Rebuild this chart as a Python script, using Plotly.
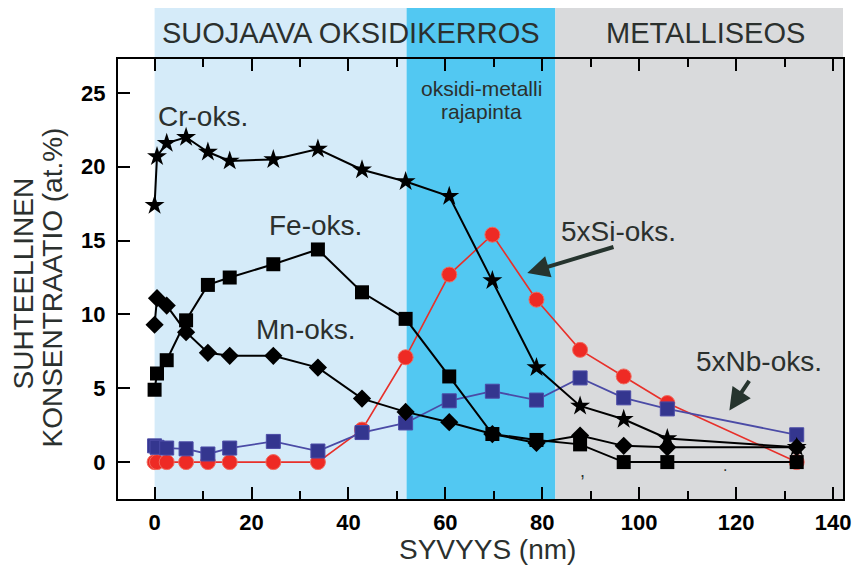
import plotly.graph_objects as go

# Sputter depth (nm) of each XPS measurement point
depth = [0, 0.5, 2.5, 6.5, 11, 15.5, 24.5, 33.7, 42.8, 51.8, 60.8, 69.7, 78.8, 87.8, 96.8, 105.8, 132.5]

# Relative concentrations (at.%) of the oxidised species
cr_oks = [17.4, 20.7, 21.6, 22.0, 21.0, 20.4, 20.5, 21.2, 19.8, 19.0, 18.0, 12.3, 6.4, 3.8, 2.9, 1.6, 1.0]
fe_oks = [4.9, 6.0, 6.9, 9.6, 12.0, 12.5, 13.4, 14.4, 11.5, 9.7, 5.8, 1.9, 1.5, 1.2, 0.0, 0.0, 0.0]
mn_oks = [9.3, 11.1, 10.6, 8.8, 7.4, 7.2, 7.2, 6.4, 4.3, 3.4, 2.7, 1.9, 1.3, 1.8, 1.1, 1.0, 1.0]
si_oks_x5 = [0, 0, 0, 0, 0, 0, 0, 0, 2.2, 7.1, 12.7, 15.4, 11.0, 7.6, 5.8, 4.0, 0.0]
nb_oks_x5 = [1.1, 1.0, 0.95, 0.9, 0.55, 0.95, 1.4, 0.75, 2.0, 2.65, 4.15, 4.8, 4.2, 5.7, 4.35, 3.6, 1.85]

# Depth zones of the sample
oxide_zone = (0, 52.0)
interface_zone = (52.0, 82.7)
alloy_zone = (82.7, 142.05)

x_ticks = [0, 20, 40, 60, 80, 100, 120, 140]
y_ticks = [0, 5, 10, 15, 20, 25]

FONT = "Liberation Sans, Arial, sans-serif"
TEXT = "#2b302e"

fig = go.Figure()

fig.add_trace(go.Scatter(
    x=depth, y=si_oks_x5, mode="lines+markers",
    line=dict(color="#e8302a", width=1.6),
    marker=dict(symbol="circle", size=15, color="#ee2a24", line=dict(color="#f06a5e", width=1)),
))
fig.add_trace(go.Scatter(
    x=depth, y=nb_oks_x5, mode="lines+markers",
    line=dict(color="#4b4ba6", width=1.8),
    marker=dict(symbol="square", size=14, color="#34368f", line=dict(color="#4b4ba6", width=1)),
))
fig.add_trace(go.Scatter(
    x=depth, y=mn_oks, mode="lines+markers",
    line=dict(color="black", width=2),
    marker=dict(symbol="diamond", size=14, color="black"),
))
fig.add_trace(go.Scatter(
    x=depth, y=fe_oks, mode="lines+markers",
    line=dict(color="black", width=2),
    marker=dict(symbol="square", size=14, color="black"),
))
fig.add_trace(go.Scatter(
    x=depth, y=cr_oks, mode="lines+markers",
    line=dict(color="black", width=2),
    marker=dict(symbol="star", size=15, color="black"),
))

# Zone backgrounds, continued above the plot as a header band
band_top = 1.116
for (x0, x1), col in [(oxide_zone, "#d5ebf9"), (interface_zone, "#52c8f2"), (alloy_zone, "#d9dadc")]:
    fig.add_shape(type="rect", xref="x", yref="paper", x0=x0, x1=x1, y0=0, y1=band_top,
                  fillcolor=col, line=dict(width=0), layer="below")

annotations = [
    dict(x=40.6, y=1.058, xref="x", yref="paper", text="SUOJAAVA OKSIDIKERROS", font=dict(size=29)),
    dict(x=113.6, y=1.058, xref="x", yref="paper", text="METALLISEOS", font=dict(size=29)),
    dict(x=67.5, y=25.3, text="oksidi-metalli", font=dict(size=21)),
    dict(x=67.5, y=23.75, text="rajapinta", font=dict(size=21)),
    dict(x=10.0, y=23.4, text="Cr-oks.", font=dict(size=28)),
    dict(x=33.3, y=16.0, text="Fe-oks.", font=dict(size=28)),
    dict(x=31.2, y=8.95, text="Mn-oks.", font=dict(size=28)),
    dict(x=95.7, y=15.65, text="5xSi-oks.", font=dict(size=28)),
    dict(x=124.7, y=6.8, text="5xNb-oks.", font=dict(size=28)),
    dict(x=88.2, y=-0.6, text=",", font=dict(size=18)),
    dict(x=117.6, y=-0.2, text=".", font=dict(size=16)),
    # axis titles
    dict(x=(492 - 118) / 733, y=-0.114, xref="paper", yref="paper", text="SYVYYS (nm)", font=dict(size=28)),
    dict(x=(22 - 118) / 733, y=0.49, xref="paper", yref="paper", text="SUHTEELLINEN",
         textangle=-90, font=dict(size=28)),
    dict(x=(52 - 118) / 733, y=0.48, xref="paper", yref="paper", text="KONSENTRAATIO (at.%)",
         textangle=-90, font=dict(size=28)),
]
for a in annotations:
    a.setdefault("xref", "x")
    a.setdefault("yref", "y")
    a["showarrow"] = False
    a["xanchor"] = "center"
    a["yanchor"] = "middle"
    a["font"] = dict(family=FONT, color=TEXT, **a["font"])
    fig.add_annotation(**a)

# Pointer arrows to the scaled Si and Nb curves
for tip, tail in [((76.9, 12.8), (95.0, 14.6)), ((118.6, 3.5), (122.9, 5.6))]:
    fig.add_annotation(x=tip[0], y=tip[1], ax=tail[0], ay=tail[1], xref="x", yref="y",
                       axref="x", ayref="y", text="", showarrow=True, arrowhead=2,
                       arrowsize=1.1, arrowwidth=4, arrowcolor="#26342e")

fig.update_xaxes(
    range=[-7.55, 142.05], tickvals=x_ticks, showgrid=False, zeroline=False,
    showline=True, linecolor="black", linewidth=2, mirror="ticks",
    ticks="inside", ticklen=12, tickwidth=2, tickcolor="black",
    minor=dict(dtick=10, tick0=0, ticks="inside", ticklen=8, tickwidth=2, tickcolor="black"),
    tickfont=dict(family=FONT, size=22, color="black", weight="bold"),
    ticklabelstandoff=3,
)
fig.update_yaxes(
    range=[-2.5, 27.3], tickvals=y_ticks, showgrid=False, zeroline=False,
    showline=True, linecolor="black", linewidth=2, mirror=True,
    ticks="inside", ticklen=12, tickwidth=2, tickcolor="black",
    tickfont=dict(family=FONT, size=22, color="black", weight="bold"),
    ticklabelstandoff=6,
)
fig.update_layout(
    width=861, height=567, showlegend=False,
    margin=dict(l=118, r=10, t=59, b=68),
    paper_bgcolor="white", plot_bgcolor="white",
)
fig.write_html("out.html")
